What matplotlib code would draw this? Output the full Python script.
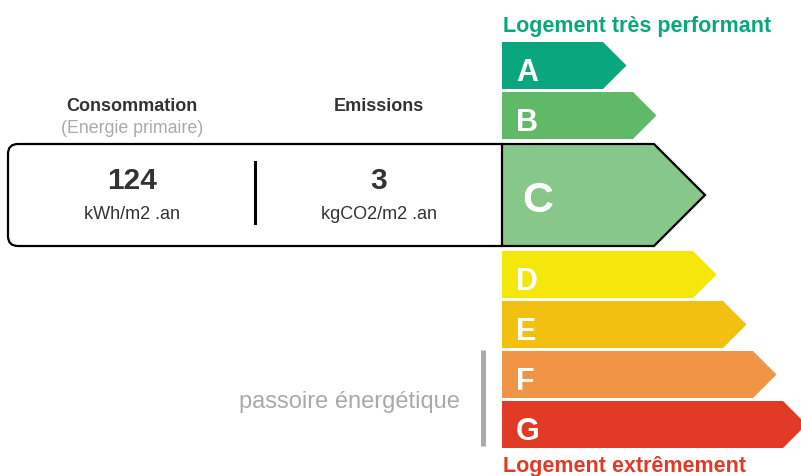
"""
dpe_label.py

Draws a French DPE (diagnostic de performance energetique) label:
the A-G arrow scale with the current class highlighted and the
consumption / emissions box next to it.
"""

import matplotlib
matplotlib.use("Agg")
import matplotlib.pyplot as plt
from matplotlib.patches import Polygon, PathPatch
from matplotlib.path import Path

plt.rcParams['font.family'] = ['Liberation Sans', 'DejaVu Sans']

# Energy classes and the length of each arrow body (px, from the left of the scale)
classes = ['A', 'B', 'C', 'D', 'E', 'F', 'G']
body_lengths = [101, 131, 152, 191, 221, 251, 281]
class_colors = ['#0aa77e', '#60b966', '#88c78a', '#f4e709', '#f2c011', '#f09545', '#e13a27']

current_class = 'C'
consumption = 124
consumption_unit = 'kWh/m2 .an'
emissions = 3
emissions_unit = 'kgCO2/m2 .an'

top_text = 'Logement très performant'
bottom_text = 'Logement extrêmement'
sieve_text = 'passoire énergétique'

W, H = 801, 477
fig = plt.figure(figsize=(W / 100, H / 100), dpi=100)
ax = fig.add_axes([0, 0, 1, 1])
ax.set_xlim(0, W)
ax.set_ylim(H, 0)
ax.axis('off')

x0 = 502          # left edge of the scale
bar_h = 47
big_h = 102
y = 43

box_top, box_bot = None, None
for i, (cls, length, col) in enumerate(zip(classes, body_lengths, class_colors)):
    is_cur = cls == current_class
    h = big_h if is_cur else bar_h
    tip = h / 2
    pts = [(x0, y), (x0 + length, y), (x0 + length + tip, y + h / 2),
           (x0 + length, y + h), (x0, y + h)]
    if is_cur:
        ax.add_patch(Polygon(pts, closed=True, facecolor=col, edgecolor='black',
                             lw=1.6, joinstyle='miter', zorder=3))
        ax.text(x0 + 20, y + h - 35, cls, color='white', fontsize=31,
                fontweight='bold', va='baseline', ha='left', zorder=4)
        box_top, box_bot = y, y + h
    else:
        ax.add_patch(Polygon(pts, closed=True, facecolor=col, edgecolor='none', zorder=2))
        ax.text(x0 + 14, y + h - 9, cls, color='white', fontsize=22,
                fontweight='bold', va='baseline', ha='left', zorder=4)
    y += h + 3
    # a little more room around the highlighted class
    if is_cur or (i + 1 < len(classes) and classes[i + 1] == current_class):
        y += 2

# rounded box on the left that joins the current class arrow
r = 10
bx = 8
verts = [(x0, box_top), (bx + r, box_top), (bx, box_top), (bx, box_top + r),
         (bx, box_bot - r), (bx, box_bot), (bx + r, box_bot), (x0, box_bot)]
codes = [Path.MOVETO, Path.LINETO, Path.CURVE3, Path.CURVE3,
         Path.LINETO, Path.CURVE3, Path.CURVE3, Path.LINETO]
ax.add_patch(PathPatch(Path(verts, codes), facecolor='none', edgecolor='black',
                       lw=1.6, zorder=3))
ax.plot([255, 255], [163, 224], color='black', lw=2.2, zorder=3)

dark = '#333333'
ax.text(132, 111, 'Consommation', color=dark, fontsize=13, fontweight='bold',
        ha='center', va='baseline')
ax.text(132, 133, '(Energie primaire)', color='#aaaaaa', fontsize=12.8,
        ha='center', va='baseline')
ax.text(379, 111, 'Emissions', color=dark, fontsize=13, fontweight='bold',
        ha='center', va='baseline')
ax.text(132, 189, str(consumption), color=dark, fontsize=21.5, fontweight='bold',
        ha='center', va='baseline')
ax.text(132, 219, consumption_unit, color=dark, fontsize=13, ha='center', va='baseline')
ax.text(379, 189, str(emissions), color=dark, fontsize=21.5, fontweight='bold',
        ha='center', va='baseline')
ax.text(379, 219, emissions_unit, color=dark, fontsize=13, ha='center', va='baseline')

ax.text(x0 + 1, 32, top_text, color=class_colors[0], fontsize=15.5,
        fontweight='bold', ha='left', va='baseline')
ax.text(x0 + 1, 472, bottom_text, color=class_colors[-1], fontsize=15.5,
        fontweight='bold', ha='left', va='baseline')

ax.plot([482.5, 482.5], [351, 447], color='#aaaaaa', lw=3.6, solid_capstyle='butt')
ax.text(460, 408, sieve_text, color='#aaaaaa', fontsize=17, ha='right', va='baseline')

fig.savefig('out.png', dpi=100)
